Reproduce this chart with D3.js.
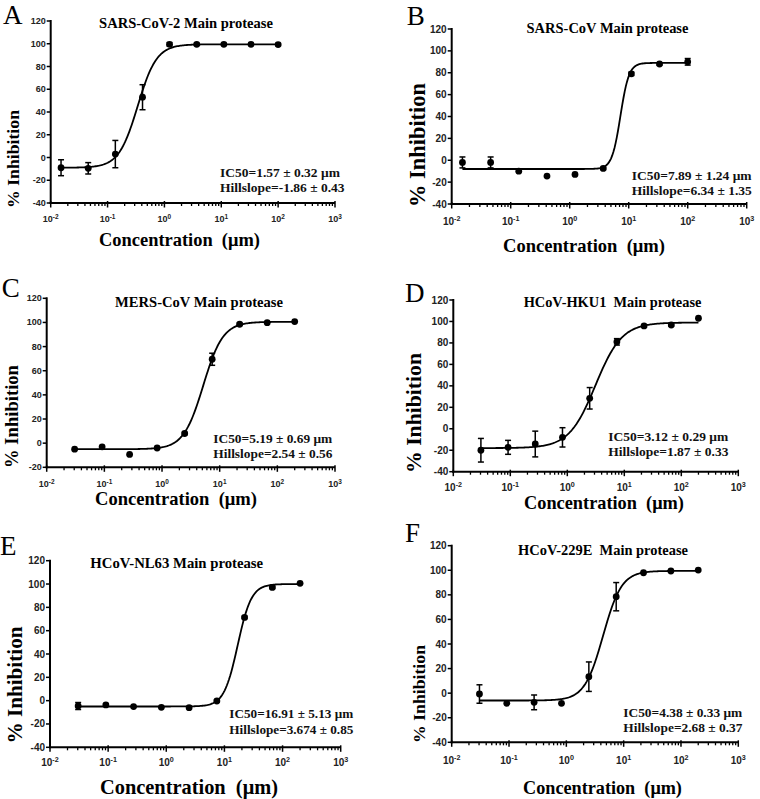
<!DOCTYPE html>
<html><head><meta charset="utf-8">
<script src="https://cdn.jsdelivr.net/npm/d3@7"></script>
<style>body{margin:0;background:#fff}text{white-space:pre}</style>
</head><body>
<svg id="chart" width="760" height="799"></svg>
<script>
// ---------------- DATA ----------------
const panelLetters = ["A", "B", "C", "D", "E", "F"];
const panelTitles = ["SARS-CoV-2 Main protease", "SARS-CoV Main protease", "MERS-CoV Main protease",
  "HCoV-HKU1  Main protease", "HCoV-NL63 Main protease", "HCoV-229E  Main protease"];
const ic50Labels = ["IC50=1.57 ± 0.32 μm", "IC50=7.89 ± 1.24 μm", "IC50=5.19 ± 0.69 μm",
  "IC50=3.12 ± 0.29 μm", "IC50=16.91 ± 5.13 μm", "IC50=4.38 ± 0.33 μm"];
const hillLabels = ["Hillslope=-1.86 ± 0.43", "Hillslope=6.34 ± 1.35", "Hillslope=2.54 ± 0.56",
  "Hillslope=1.87 ± 0.33", "Hillslope=3.674 ± 0.85", "Hillslope=2.68 ± 0.37"];
const xAxisTitle = "Concentration  (μm)";
const yAxisTitle = "% Inhibition";
const xTickExponents = [-2, -1, 0, 1, 2, 3];
const yDomains = [[-40, 120], [-40, 120], [-20, 120], [-40, 120], [-40, 120], [-40, 120]];

// concentrations (µM), 3-fold dilution series
const conc100 = [0.0152, 0.0457, 0.137, 0.412, 1.23, 3.70, 11.1, 33.3, 100];
const conc200 = [0.0305, 0.0914, 0.274, 0.823, 2.47, 7.41, 22.2, 66.7, 200];

const valuesA = [-9, -9.5, 3, 53, 99.5, 99.5, 99.5, 99.5, 99.3];
const errorsA = [7, 5, 12, 11, 1.5, 1, 1, 1, 1];
const valuesB = [-2, -2, -10, -14.5, -13, -7.5, 79, 88, 90];
const errorsB = [5, 5, 0, 0, 0, 1, 1.5, 1, 3];
const valuesC = [-5, -3, -9.3, -4, 8, 69.5, 98.5, 99.8, 100.7];
const errorsC = [0, 0, 0, 0, 1, 5, 1, 0, 0];
const valuesD = [-20, -17.3, -14.2, -8, 28.4, 81, 95.8, 96.7, 103];
const errorsD = [11, 6.5, 12, 9, 10, 3, 1, 1, 0];
const valuesE = [-4.6, -3.7, -5.1, -5.7, -6, -0.3, 71.4, 97.1, 100.6];
const errorsE = [3, 1, 0, 0, 0, 1, 1, 1, 0];
const valuesF = [-0.7, -8.3, -7.5, -8.3, 13.4, 78.5, 98, 99.4, 100.2];
const errorsF = [7.5, 0, 6, 0, 12, 11.5, 0, 0, 0];

const concs = [conc100, conc100, conc200, conc200, conc200, conc200];
const values = [valuesA, valuesB, valuesC, valuesD, valuesE, valuesF];
const errors = [errorsA, errorsB, errorsC, errorsD, errorsE, errorsF];

// four-parameter logistic fit parameters per panel
const fitBottom = [-9, -8, -5, -18, -5, -6];
const fitTop = [99.5, 89, 100.5, 99, 100, 99.5];
const fitLogIC50 = [-0.47, 0.86, 0.715, 0.494, 1.228, 0.641];
const fitHill = [2.6, 6.0, 2.54, 1.87, 3.674, 2.68];

// ---------------- LAYOUT ----------------
const layout = [
  {x0: 50.7, x1: 335, yT: 21, yB: 203, tickFs: 9, tickY: 218.5,
   letter: [3, 24], title: [186, 23, 174], xt: [179.5, 240, 161], yt: [13, 159, 98], ann: [220, 172.4, 187.3, 120]},
  {x0: 451.7, x1: 746.7, yT: 29, yB: 204, tickFs: 10, tickY: 221,
   letter: [406.7, 25], title: [607.5, 28.3, 162], xt: [584, 245, 162], yt: [417.5, 145, 124], ann: [631.7, 175, 190.7, 120]},
  {x0: 46.7, x1: 335, yT: 298.3, yB: 467.3, tickFs: 9, tickY: 483.5,
   letter: [1.7, 297], title: [199, 301.7, 168], xt: [176, 498.3, 162], yt: [11, 416.5, 103], ann: [213.3, 438.3, 453.3, 119]},
  {x0: 453.3, x1: 738.3, yT: 300, yB: 471.7, tickFs: 10, tickY: 487,
   letter: [405, 301.7], title: [612.5, 302.3, 178], xt: [604, 503.3, 160], yt: [414, 413, 120], ann: [608.3, 436.7, 451.7, 120]},
  {x0: 50, x1: 340.7, yT: 560.7, yB: 747.3, tickFs: 10, tickY: 762,
   letter: [0, 555], title: [176.7, 563.3, 173], xt: [189, 786.7, 178], yt: [15, 685, 117], ann: [229.3, 713.3, 729, 124]},
  {x0: 451.7, x1: 738.3, yT: 545.7, yB: 742.3, tickFs: 10, tickY: 760,
   letter: [405, 542], title: [603, 550, 170], xt: [602.5, 788.3, 159], yt: [418.5, 694, 98], ann: [623.3, 712.7, 727.3, 119]}
];

const SERIF = "'Liberation Serif','Times New Roman',serif";
const SANS = "'Liberation Sans',Arial,sans-serif";
const svg = d3.select("#chart");

function fitWidth(sel, target) {
  const fs = parseFloat(sel.attr("font-size"));
  const w = sel.node().getComputedTextLength();
  if (w > 0) sel.attr("font-size", fs * target / w);
  return sel;
}

layout.forEach((L, i) => {
  const g = svg.append("g");
  const x = d3.scaleLog().domain([1e-2, 1e3]).range([L.x0, L.x1]);
  const y = d3.scaleLinear().domain(yDomains[i]).range([L.yB, L.yT]);

  // y axis
  const yTicks = d3.range(yDomains[i][0], yDomains[i][1] + 1, 20);
  g.append("line").attr("x1", L.x0).attr("x2", L.x0).attr("y1", L.yT - 1).attr("y2", L.yB + 1)
    .attr("stroke", "#000").attr("stroke-width", 2);
  g.selectAll(".yt").data(yTicks).join("line")
    .attr("x1", L.x0 - 4).attr("x2", L.x0).attr("y1", d => y(d)).attr("y2", d => y(d))
    .attr("stroke", "#000").attr("stroke-width", 1.5);
  g.selectAll(".yl").data(yTicks).join("text")
    .attr("x", L.x0 - 5).attr("y", d => y(d)).attr("text-anchor", "end").attr("dominant-baseline", "central")
    .attr("font-family", SANS).attr("font-weight", "bold").attr("font-size", L.tickFs).attr("fill", "#222")
    .text(d => d);

  // x axis
  g.append("line").attr("x1", L.x0 - 1).attr("x2", L.x1).attr("y1", L.yB).attr("y2", L.yB)
    .attr("stroke", "#000").attr("stroke-width", 2);
  const minor = [];
  xTickExponents.slice(0, -1).forEach(e => { for (let k = 2; k <= 9; k++) minor.push(k * Math.pow(10, e)); });
  g.selectAll(".xm").data(minor).join("line")
    .attr("x1", d => x(d)).attr("x2", d => x(d)).attr("y1", L.yB).attr("y2", L.yB + 3)
    .attr("stroke", "#000").attr("stroke-width", 1.3);
  g.selectAll(".xM").data(xTickExponents).join("line")
    .attr("x1", d => x(Math.pow(10, d))).attr("x2", d => x(Math.pow(10, d)))
    .attr("y1", L.yB - 2).attr("y2", L.yB + 4.5).attr("stroke", "#000").attr("stroke-width", 1.5);
  const xl = g.selectAll(".xl").data(xTickExponents).join("text")
    .attr("x", d => x(Math.pow(10, d))).attr("y", L.tickY).attr("text-anchor", "middle")
    .attr("dominant-baseline", "central")
    .attr("font-family", SANS).attr("font-weight", "bold").attr("font-size", L.tickFs).attr("fill", "#222");
  xl.append("tspan").text("10");
  xl.append("tspan").attr("dy", -3).attr("font-size", L.tickFs * 0.72).text(d => String(d).replace("-", "-"));

  // fitted curve
  const c = concs[i];
  const lo = Math.log10(c[0]), hi = Math.log10(c[c.length - 1]);
  const curve = d3.range(0, 201).map(k => {
    const lx = lo + (hi - lo) * k / 200;
    return [lx, fitBottom[i] + (fitTop[i] - fitBottom[i]) / (1 + Math.pow(10, (fitLogIC50[i] - lx) * fitHill[i]))];
  });
  g.append("path").datum(curve)
    .attr("d", d3.line().x(d => x(Math.pow(10, d[0]))).y(d => y(d[1])))
    .attr("fill", "none").attr("stroke", "#000").attr("stroke-width", 1.8);

  // error bars & points
  const pts = c.map((cc, k) => ({c: cc, v: values[i][k], e: errors[i][k]}));
  const eb = g.selectAll(".eb").data(pts.filter(p => p.e > 0)).join("g");
  eb.append("line").attr("x1", d => x(d.c)).attr("x2", d => x(d.c))
    .attr("y1", d => y(d.v - d.e)).attr("y2", d => y(d.v + d.e)).attr("stroke", "#000").attr("stroke-width", 1.5);
  eb.append("line").attr("x1", d => x(d.c) - 3).attr("x2", d => x(d.c) + 3)
    .attr("y1", d => y(d.v - d.e)).attr("y2", d => y(d.v - d.e)).attr("stroke", "#000").attr("stroke-width", 1.5);
  eb.append("line").attr("x1", d => x(d.c) - 3).attr("x2", d => x(d.c) + 3)
    .attr("y1", d => y(d.v + d.e)).attr("y2", d => y(d.v + d.e)).attr("stroke", "#000").attr("stroke-width", 1.5);
  g.selectAll(".pt").data(pts).join("circle")
    .attr("cx", d => x(d.c)).attr("cy", d => y(d.v)).attr("r", 3.4).attr("fill", "#000");

  // texts
  g.append("text").attr("x", L.letter[0]).attr("y", L.letter[1])
    .attr("font-family", SERIF).attr("font-size", 27).attr("fill", "#000").text(panelLetters[i]);
  fitWidth(g.append("text").attr("x", L.title[0]).attr("y", L.title[1]).attr("text-anchor", "middle")
    .attr("dominant-baseline", "central").attr("font-family", SERIF).attr("font-weight", "bold")
    .attr("font-size", 14).attr("fill", "#000").text(panelTitles[i]), L.title[2]);
  fitWidth(g.append("text").attr("x", L.xt[0]).attr("y", L.xt[1]).attr("text-anchor", "middle")
    .attr("dominant-baseline", "central").attr("font-family", SERIF).attr("font-weight", "bold")
    .attr("font-size", 18).attr("fill", "#000").text(xAxisTitle), L.xt[2]);
  fitWidth(g.append("text").attr("transform", `translate(${L.yt[0]},${L.yt[1]}) rotate(-90)`)
    .attr("text-anchor", "middle").attr("dominant-baseline", "central").attr("font-family", SERIF)
    .attr("font-weight", "bold").attr("font-size", 18).attr("fill", "#000").text(yAxisTitle), L.yt[2]);
  const a1 = fitWidth(g.append("text").attr("x", L.ann[0]).attr("y", L.ann[1]).attr("dominant-baseline", "central")
    .attr("font-family", SERIF).attr("font-weight", "bold").attr("font-size", 12).attr("fill", "#111")
    .text(ic50Labels[i]), L.ann[3]);
  g.append("text").attr("x", L.ann[0]).attr("y", L.ann[2]).attr("dominant-baseline", "central")
    .attr("font-family", SERIF).attr("font-weight", "bold").attr("font-size", a1.attr("font-size")).attr("fill", "#111")
    .text(hillLabels[i]);
});
</script>
</body></html>
